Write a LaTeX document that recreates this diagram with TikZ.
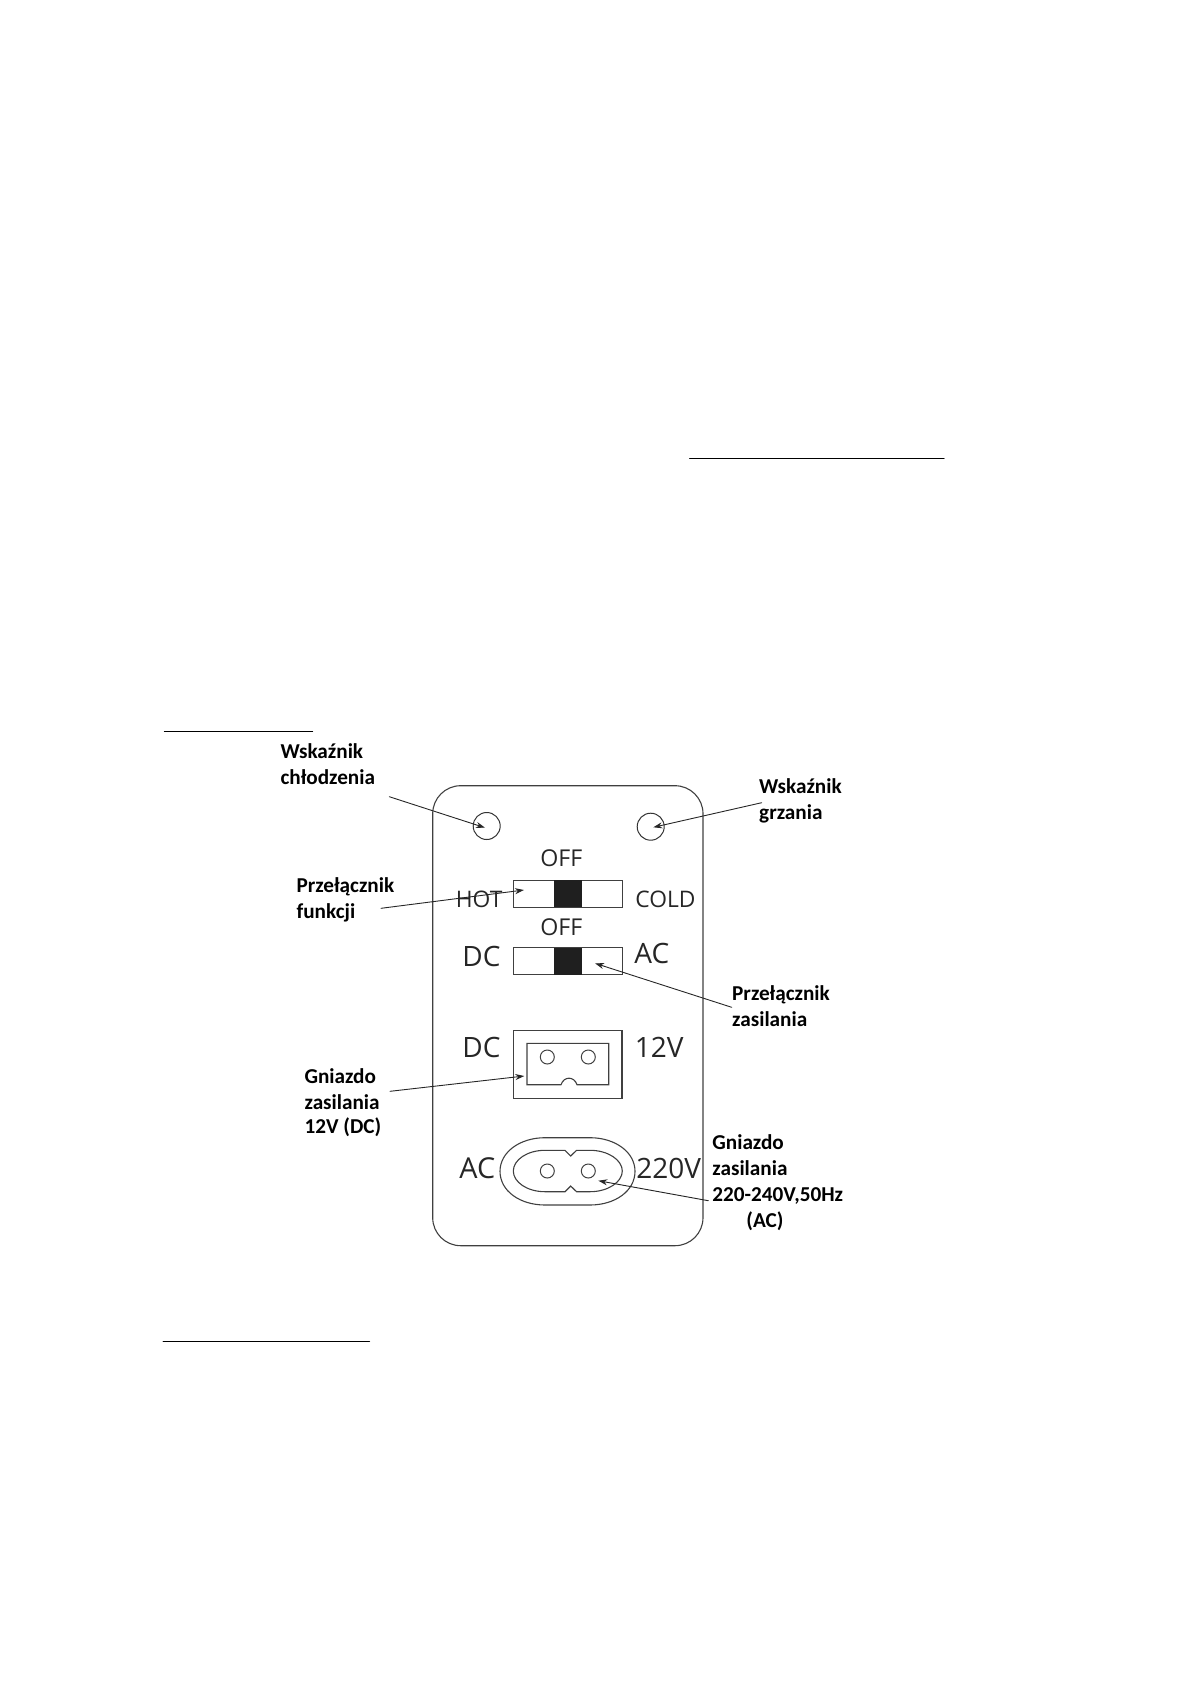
\documentclass[tikz,border=0pt]{standalone}
\usepackage{fontspec}
\usepackage{xcolor}
\usetikzlibrary{arrows.meta}
\setmainfont{Carlito}
\newfontfamily\panelfont{Open Sans}
\tikzset{
  callout/.style={anchor=base west,inner sep=0pt,align=left,font=\bfseries\fontsize{10.6}{13}\selectfont},
  paneltxt/.style={anchor=base west,inner sep=0pt,text=black!85,font=\panelfont\fontsize{#1}{#1}\selectfont},
  pointer/.style={->,line width=0.45pt,black!85},
  edge/.style={line width=0.55pt,black!75},
  hole/.style={circle,draw=black!75,line width=0.5pt,inner sep=0pt,minimum size=7pt},
  led/.style={circle,draw=black!80,line width=0.5pt,inner sep=0pt,minimum size=13.5pt},
  switchbox/.style={draw=black!75,line width=0.55pt,inner sep=0pt,minimum width=54.5pt,minimum height=13.5pt},
  slider/.style={fill=black!88,inner sep=0pt,minimum width=14pt,minimum height=13.5pt},
  rulebar/.style={line width=0.5pt,black}
}
\begin{document}
\begin{tikzpicture}[x=0.5pt,y=-0.5pt,>={Stealth[length=4.5pt,width=3pt]},line cap=round]
\useasboundingbox (0,0) rectangle (1190,1684);
% rules
\coordinate (ruleA) at (689.5,458);
\coordinate (ruleAend) at (944,458);
\coordinate (ruleB) at (164.3,731);
\coordinate (ruleBend) at (312.7,731);
\coordinate (ruleC) at (163,1341);
\coordinate (ruleCend) at (369.5,1341);
\draw[rulebar] (ruleA) -- (ruleAend);
\draw[rulebar] (ruleB) -- (ruleBend);
\draw[rulebar] (ruleC) -- (ruleCend);
% panel
\draw[edge,rounded corners=14pt] (432.7,785.7) rectangle (703,1245.7);
\node[led] (ledcold) at (486.7,826) {};
\node[led] (ledhot) at (650.7,826.7) {};
% switches
\node[switchbox] (funcsw) at (567.8,893.8) {};
\node[slider] (funcknob) at (568,893.8) {};
\node[switchbox] (powersw) at (567.8,961.3) {};
\node[slider] (powerknob) at (568,961.3) {};
\node[paneltxt=11.6] (offa) at (540,866.7) {OFF};
\node[paneltxt=11.6] (offb) at (540,935) {OFF};
\node[paneltxt=11.4] (hot) at (455.5,907) {HOT};
\node[paneltxt=11.4] (cold) at (635,907) {COLD};
\node[paneltxt=14] (dca) at (462,966) {DC};
\node[paneltxt=14] (aca) at (634,963.3) {AC};
% 12V socket
\node[paneltxt=14] (dcb) at (462,1057.5) {DC};
\node[paneltxt=14] (volta) at (634.5,1057.5) {12V};
\draw[edge] (513.3,1030.7) rectangle (622,1098.3);
\draw[edge] (527,1043.3) -- (608.7,1043.3) -- (608.7,1084.7) -- (577,1084.7)
  .. controls (574,1076) and (564,1076) .. (561,1084.7) -- (527,1084.7) -- cycle;
\node[hole] (dcpina) at (547.3,1057) {};
\node[hole] (dcpinb) at (588.3,1057) {};
% 220V socket
\node[paneltxt=14.4] (acb) at (459,1178.3) {AC};
\node[paneltxt=14] (voltb) at (636,1178.3) {220V};
\draw[edge] (545,1137.7) -- (590,1137.7) .. controls (615,1137.7) and (635,1152) .. (635,1171.3)
  .. controls (635,1191) and (615,1205) .. (590,1205) -- (545,1205)
  .. controls (520,1205) and (500,1191) .. (500,1171.3)
  .. controls (500,1152) and (520,1137.7) .. (545,1137.7) -- cycle;
\draw[edge] (545,1150.3) -- (565,1150.3) -- (570.7,1156) -- (576.5,1150.3) -- (590,1150.3)
  .. controls (608,1150.3) and (622.3,1160) .. (622.3,1171)
  .. controls (622.3,1182) and (608,1191.7) .. (590,1191.7) -- (576.5,1191.7) -- (570.7,1186) -- (565,1191.7) -- (545,1191.7)
  .. controls (527,1191.7) and (513.3,1182) .. (513.3,1171)
  .. controls (513.3,1160) and (527,1150.3) .. (545,1150.3) -- cycle;
\node[hole] (acpina) at (547.3,1171) {};
\node[hole] (acpinb) at (588.3,1171) {};
% labels
\node[callout] (lblcold) at (280.2,784.2) {Wskaźnik\\chłodzenia};
\node[callout] (lblhot) at (758.8,819.2) {Wskaźnik\\grzania};
\node[callout] (lblfunc) at (296.2,918.2) {Przełącznik\\funkcji};
\node[callout] (lblpower) at (731.8,1026.8) {Przełącznik\\zasilania};
\node[callout] (lbldc) at (304.2,1133) {Gniazdo\\zasilania\\[-1pt]12V (DC)};
\node[callout] (lblac) at (712,1227) {Gniazdo\\zasilania\\220-240V,50Hz\\\hspace{17pt}(AC)};
% pointers
\coordinate (ptcold) at (389.3,796.7);
\coordinate (tipcold) at (485,827.7);
\coordinate (pthot) at (761.7,802.7);
\coordinate (tiphot) at (653.3,827.3);
\coordinate (ptfunc) at (381,908.3);
\coordinate (tipfunc) at (524,890);
\coordinate (ptpower) at (731.7,1007.3);
\coordinate (tippower) at (595,963.3);
\coordinate (ptdc) at (390,1091.3);
\coordinate (tipdc) at (524.3,1076);
\coordinate (ptac) at (708.3,1200.7);
\coordinate (tipac) at (598.3,1180.7);
\draw[pointer] (ptcold) -- (tipcold);
\draw[pointer] (pthot) -- (tiphot);
\draw[pointer] (ptfunc) -- (tipfunc);
\draw[pointer] (ptpower) -- (tippower);
\draw[pointer] (ptdc) -- (tipdc);
\draw[pointer] (ptac) -- (tipac);
\end{tikzpicture}
\end{document}
